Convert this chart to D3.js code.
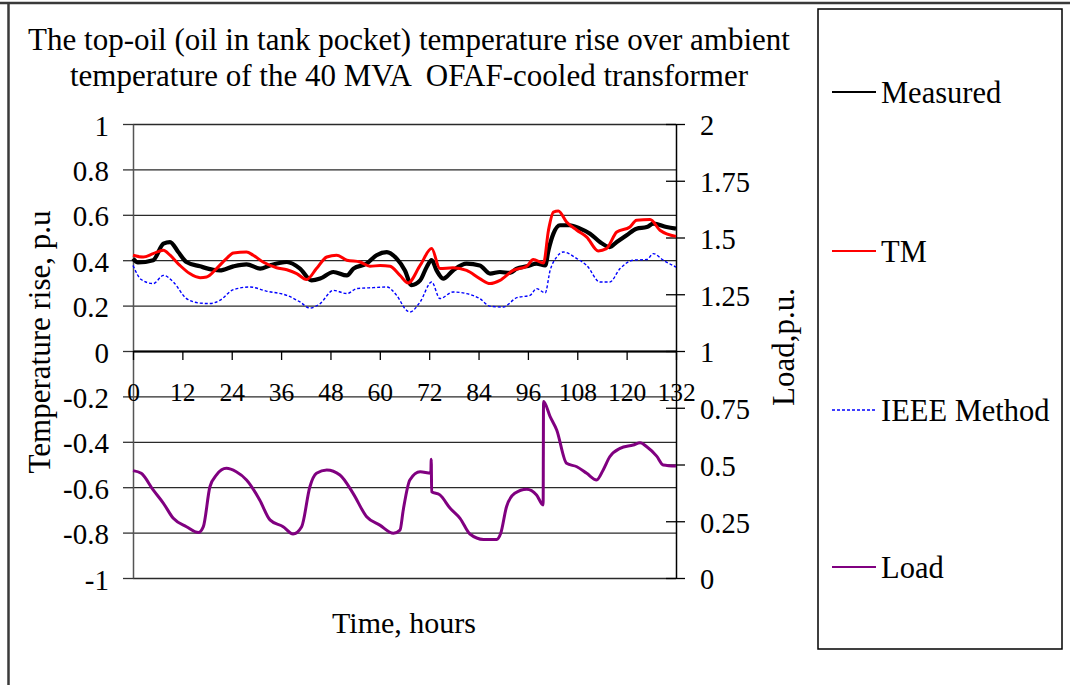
<!DOCTYPE html>
<html>
<head>
<meta charset="utf-8">
<script src="https://cdn.jsdelivr.net/npm/d3@7"></script>
<style>
  html, body { margin: 0; padding: 0; background: #fff; }
  svg { display: block; font-family: "Liberation Serif", "Times New Roman", serif; }
  .axis text { fill: #000; }
</style>
</head>
<body>
<svg id="chart" width="1070" height="685"></svg>
<script>
// Time axis (hours)
const hourTicks = [0, 12, 24, 36, 48, 60, 72, 84, 96, 108, 120, 132];
const tempTicks = [-1, -0.8, -0.6, -0.4, -0.2, 0, 0.2, 0.4, 0.6, 0.8, 1];
const tempTickLabels = ["-1", "-0.8", "-0.6", "-0.4", "-0.2", "0", "0.2", "0.4", "0.6", "0.8", "1"];
const loadTicks = [0, 0.25, 0.5, 0.75, 1, 1.25, 1.5, 1.75, 2];
const loadTickLabels = ["0", "0.25", "0.5", "0.75", "1", "1.25", "1.5", "1.75", "2"];

// Measured top-oil temperature rise, p.u.
const measuredHours = [0,1.2,4.9,7.4,9,11,13,16.3,19.5,21.1,24.4,27.6,30.9,33.3,37.4,40.6,43.4,45.5,48.7,52,53.6,56.8,59.2,61.7,64.1,66.1,67.7,69.8,71.4,72.6,73.8,75.4,77.8,81.1,84.3,86.8,89.2,91.6,93.3,95.7,98.1,100.2,101,102.2,103.8,106.2,108.7,111.1,113.5,115.9,117.6,120,122.4,124.9,126.5,129.7,132];
const measuredValues = [0.407,0.39,0.40,0.473,0.48,0.436,0.392,0.373,0.358,0.355,0.373,0.382,0.363,0.377,0.392,0.363,0.311,0.319,0.348,0.333,0.363,0.385,0.422,0.436,0.407,0.355,0.29,0.311,0.37,0.40,0.355,0.319,0.355,0.385,0.377,0.341,0.348,0.344,0.363,0.373,0.385,0.377,0.444,0.517,0.554,0.554,0.539,0.517,0.48,0.458,0.48,0.51,0.539,0.546,0.561,0.546,0.539];

// TM model
const tmHours = [0,2.5,4.9,7.4,9,11.4,13.8,16.3,17.9,20.3,22.7,24.4,27.6,29.2,31.6,34.9,37.4,39.8,42.2,44.6,47.1,49.5,52,55.2,57.6,60.1,62.5,64.9,66.9,69.8,72.6,74.6,77.8,81.1,84.3,86.8,89.2,92.4,95.7,97.3,99.8,101,102.2,103.4,105.4,107.9,110.3,113.1,115.1,117.6,120.8,122.4,125.7,128.1,132];
const tmValues = [0.422,0.414,0.429,0.444,0.422,0.377,0.341,0.323,0.326,0.363,0.407,0.432,0.436,0.422,0.392,0.367,0.358,0.341,0.315,0.363,0.414,0.422,0.40,0.392,0.373,0.377,0.373,0.333,0.30,0.377,0.451,0.363,0.367,0.355,0.319,0.297,0.311,0.355,0.373,0.403,0.388,0.532,0.612,0.617,0.568,0.532,0.502,0.441,0.451,0.524,0.546,0.576,0.579,0.532,0.505];

// IEEE method
const ieeeHours = [0,2,4.9,7.4,9.8,13,16.3,18.7,21.1,24.4,28.4,32.4,37.4,40.6,43,45.5,48.7,52,54.4,58.4,61.7,64.1,66.5,67.3,69.8,72.6,74.6,77.8,81.1,84.3,86.8,90,93.3,96.5,98.1,100.2,101.4,103,104.6,107.9,110.3,113.5,115.9,118.4,121.6,124.9,126.5,128.9,132];
const ieeeValues = [0.377,0.315,0.297,0.333,0.304,0.231,0.211,0.209,0.223,0.27,0.282,0.264,0.245,0.216,0.189,0.209,0.267,0.253,0.275,0.279,0.282,0.245,0.179,0.172,0.216,0.304,0.231,0.26,0.253,0.231,0.197,0.194,0.235,0.245,0.275,0.256,0.355,0.414,0.436,0.407,0.377,0.304,0.304,0.363,0.40,0.403,0.429,0.40,0.37];

// Load, p.u. (right axis)
const loadHours = [0,2,4.9,7.4,9.8,13,15.9,17.1,18.7,20.3,22.7,25.1,27.6,30.8,33.3,36.5,38.9,41,43,44.6,47.1,50.3,53.5,56.8,60,63.3,64.9,65.7,67.3,69.8,72.4,72.5,72.6,74.6,77.1,79.5,81.9,85.2,88.4,89.4,90.8,92.8,95.7,98.1,99.7,99.8,101.4,103,105.4,107.9,110.3,112.7,114.3,115.9,118.4,121.6,123.3,124.9,127.3,128.9,132];
const loadValues = [0.473,0.461,0.388,0.329,0.263,0.226,0.2,0.226,0.402,0.454,0.483,0.468,0.432,0.344,0.256,0.226,0.194,0.226,0.402,0.461,0.476,0.454,0.373,0.27,0.233,0.197,0.211,0.3,0.432,0.468,0.461,0.523,0.38,0.366,0.307,0.263,0.194,0.17,0.17,0.197,0.314,0.373,0.391,0.366,0.322,0.777,0.711,0.652,0.505,0.49,0.461,0.432,0.476,0.534,0.571,0.586,0.596,0.578,0.537,0.498,0.493];

const legendLabels = ["Measured", "TM", "IEEE Method", "Load"];

const svg = d3.select("#chart");

// Outer frame
svg.append("line").attr("x1", 0).attr("x2", 1070).attr("y1", 3).attr("y2", 3)
  .attr("stroke", "#3a3a3a").attr("stroke-width", 2.5);
svg.append("line").attr("x1", 8.5).attr("x2", 8.5).attr("y1", 2).attr("y2", 685)
  .attr("stroke", "#3a3a3a").attr("stroke-width", 2.5);

// Plot geometry
const plotLeft = 133, plotRight = 676, plotTop = 124, plotBottom = 578;

const x = d3.scaleLinear().domain([0, 132]).range([plotLeft, plotRight]);
const yL = d3.scaleLinear().domain([-1, 1]).range([plotBottom, plotTop]);
const yR = d3.scaleLinear().domain([0, 2]).range([plotBottom, plotTop]);

// Horizontal gridlines
const grid = svg.append("g").attr("transform", `translate(${plotLeft},0)`)
  .call(d3.axisLeft(yL).tickValues(tempTicks).tickSize(-(plotRight - plotLeft)).tickFormat(""));
grid.select(".domain").remove();
grid.selectAll(".tick line").attr("stroke", "#2a2a2a").attr("stroke-width", 1.3);

// Left axis
const axL = svg.append("g").attr("class", "axis").attr("transform", `translate(${plotLeft},0)`)
  .call(d3.axisLeft(yL).tickValues(tempTicks).tickSizeInner(10).tickSizeOuter(0).tickPadding(14)
    .tickFormat((d, i) => tempTickLabels[i]));
axL.attr("font-family", "Liberation Serif");
axL.select(".domain").attr("stroke", "#555").attr("stroke-width", 1.5);
axL.selectAll(".tick line").attr("stroke", "#333").attr("stroke-width", 1.3);
axL.selectAll(".tick text").attr("font-size", 29).attr("dy", "0.38em");

// Right axis (load)
const axR = svg.append("g").attr("class", "axis").attr("transform", `translate(${plotRight},0)`)
  .call(d3.axisRight(yR).tickValues(loadTicks).tickSizeInner(9).tickSizeOuter(0).tickPadding(15)
    .tickFormat((d, i) => loadTickLabels[i]));
axR.attr("font-family", "Liberation Serif");
axR.select(".domain").attr("stroke", "#000").attr("stroke-width", 1.5);
axR.selectAll(".tick line").attr("x1", -10).attr("stroke", "#000").attr("stroke-width", 1.3);
axR.selectAll(".tick text").attr("font-size", 28.5).attr("dy", "0.38em");

// Time axis crossing at zero
const axX = svg.append("g").attr("class", "axis").attr("transform", `translate(0,${yL(0)})`)
  .call(d3.axisBottom(x).tickValues(hourTicks).tickSizeInner(9).tickSizeOuter(0).tickPadding(23)
    .tickFormat(d3.format("d")));
axX.attr("font-family", "Liberation Serif");
axX.select(".domain").attr("stroke", "#000").attr("stroke-width", 2.2);
axX.selectAll(".tick line").attr("stroke", "#000").attr("stroke-width", 1.3);
axX.selectAll(".tick text").attr("font-size", 25.5);

// Series lines
const line = (hours, values, yScale) => d3.line()
  .x((d, i) => x(hours[i]))
  .y(d => yScale(d))
  .curve(d3.curveMonotoneX)(values);

svg.append("path").attr("d", line(ieeeHours, ieeeValues, yL))
  .attr("fill", "none").attr("stroke", "#0000ff").attr("stroke-width", 1.4)
  .attr("stroke-dasharray", "3,2");
svg.append("path").attr("d", line(measuredHours, measuredValues, yL))
  .attr("fill", "none").attr("stroke", "#000").attr("stroke-width", 4.2)
  .attr("stroke-linejoin", "round");
svg.append("path").attr("d", line(tmHours, tmValues, yL))
  .attr("fill", "none").attr("stroke", "#ff0000").attr("stroke-width", 3)
  .attr("stroke-linejoin", "round");
svg.append("path").attr("d", line(loadHours, loadValues, yR))
  .attr("fill", "none").attr("stroke", "#800080").attr("stroke-width", 3)
  .attr("stroke-linejoin", "round");

// Title
const title = svg.append("text").attr("text-anchor", "middle").attr("font-size", 31)
  .style("white-space", "pre");
title.append("tspan").attr("x", 409).attr("y", 50)
  .text("The top-oil (oil in tank pocket) temperature rise over ambient");
title.append("tspan").attr("x", 409).attr("y", 86)
  .text("temperature of the 40 MVA  OFAF-cooled transformer");

// Axis titles
svg.append("text").attr("text-anchor", "middle").attr("font-size", 31)
  .attr("transform", "translate(50,342) rotate(-90)")
  .text("Temperature rise, p.u");
svg.append("text").attr("text-anchor", "middle").attr("font-size", 31)
  .attr("transform", "translate(794,347) rotate(-90)")
  .text("Load,p.u.");
svg.append("text").attr("text-anchor", "middle").attr("font-size", 30)
  .attr("x", 404).attr("y", 633)
  .text("Time, hours");

// Legend
svg.append("rect").attr("x", 818).attr("y", 9).attr("width", 244).attr("height", 640)
  .attr("fill", "none").attr("stroke", "#000").attr("stroke-width", 1.5);
const legendY = [92, 251, 410, 567];
const legendStyles = [
  { color: "#000", dash: null, width: 2 },
  { color: "#ff0000", dash: null, width: 2 },
  { color: "#0000ff", dash: "3,2", width: 1.4 },
  { color: "#800080", dash: null, width: 2 }
];
legendLabels.forEach((label, i) => {
  const g = svg.append("g").attr("transform", `translate(0,${legendY[i]})`);
  g.append("line").attr("x1", 832).attr("x2", 876).attr("y1", 0).attr("y2", 0)
    .attr("stroke", legendStyles[i].color).attr("stroke-width", legendStyles[i].width)
    .attr("stroke-dasharray", legendStyles[i].dash);
  g.append("text").attr("x", 881).attr("y", 10.5).attr("font-size", 30.5).text(label);
});
</script>
</body>
</html>
